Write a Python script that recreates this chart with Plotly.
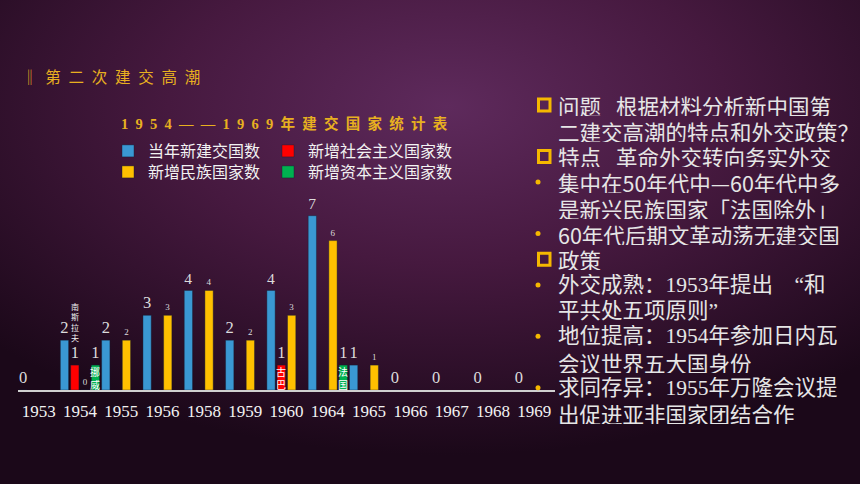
import urllib.parse
import plotly.graph_objects as go

# data
years = ['1953', '1954', '1955', '1956', '1958', '1959', '1960',
         '1964', '1965', '1966', '1967', '1968', '1969']
new_total = [0, 2, 2, 3, 4, 2, 4, 7, 1, 0, 0, 0, 0]
new_socialist = [None, 1, None, None, None, None, 1, None, None, None, None, None, None]
new_national = [None, 0, 2, 3, 4, 2, 3, 6, 1, None, None, None, None]
new_capitalist = [None, 1, None, None, None, None, None, 1, None, None, None, None, None]

series_names = ['当年新建交国数', '新增社会主义国家数', '新增民族国家数', '新增资本主义国家数']
series_colors = ['#3a98d3', '#ff0000', '#ffc000', '#00b050']

# country names written on/above single bars: (year, series index, value, text)
country_notes = [
    ('1954', 1, 1, '南斯拉夫'),
    ('1954', 3, 1, '挪威'),
    ('1960', 1, 1, '古巴'),
    ('1964', 3, 1, '法国'),
]

heading = '‖第二次建交高潮'
chart_title = '1954——1969年建交国家统计表'

# right-hand notes: (bullet kind, text)
side_notes = [
    ('square', '问题\u2002\u2009根据材料分析新中国第'),
    (None, '二建交高潮的特点和外交政策？'),
    ('square', '特点\u2002\u2009革命外交转向务实外交'),
    ('dot', '集中在50年代中—60年代中多'),
    (None, '是新兴民族国家「法国除外」'),
    ('dot', '60年代后期文革动荡无建交国'),
    ('square', '政策'),
    ('dot', '外交成熟：1953年提出\u3000“和'),
    (None, '平共处五项原则”'),
    ('dot', '地位提高：1954年参加日内瓦'),
    (None, '会议世界五大国身份'),
    ('dot', '求同存异：1955年万隆会议提'),
    (None, '出促进亚非国家团结合作'),
]

W, H = 860, 484
SERIF = 'Liberation Serif, Noto Sans CJK SC'
SANS = 'Noto Sans CJK SC, Noto Sans'
GOLD = '#e8b020'
TEXT = '#e6e6e6'


def px_x(x):
    return x / W


def px_y(y):
    return 1 - y / H


fig = go.Figure()

values = [new_total, new_socialist, new_national, new_capitalist]
label_sizes = [17, 17, 9, 17]
legends = ['legend', 'legend2', 'legend3', 'legend4']
for name, vals, color, size, lg in zip(series_names, values, series_colors, label_sizes, legends):
    fig.add_trace(go.Bar(
        x=years, y=vals, name=name, legend=lg,
        marker=dict(color=color, line=dict(color='rgba(20,30,50,0.5)', width=0.8)),
        texttemplate='%{y}', textposition='outside', cliponaxis=False,
        textfont=dict(family=SERIF, size=size, color='#dcdcdc'),
        hovertemplate='%{x}<br>' + name + ': %{y}<extra></extra>',
    ))

# horizontal offset of each series inside a year group (px)
slot = (555 - 18) / len(years) / 4
offsets = [(-1.5 + i) * slot for i in range(4)]

for year, si, val, txt in country_notes:
    xi = years.index(year)
    if si == 1 and year == '1954':
        # written vertically above the value label
        fig.add_annotation(x=xi, y=val, xref='x', yref='y', xshift=offsets[si], yshift=43,
                           text='<br>'.join(txt), showarrow=False, align='center',
                           font=dict(family=SANS, size=8, color='#f0f0f0'))
    else:
        fig.add_annotation(x=xi, y=val / 2, xref='x', yref='y', xshift=offsets[si],
                           text='<br>'.join(txt), showarrow=False, align='center',
                           font=dict(family=SANS, size=10, color='#ffffff'))

fig.add_annotation(x=px_x(20), y=px_y(76), xref='paper', yref='paper', xanchor='left',
                   yanchor='middle', text='\u2002'.join(heading), showarrow=False,
                   font=dict(family=SANS, size=15.5, color=GOLD))
fig.add_annotation(x=px_x(284), y=px_y(123), xref='paper', yref='paper', xanchor='center',
                   yanchor='middle', text='\u2002'.join(chart_title), showarrow=False,
                   font=dict(family=SERIF, size=14.5, color=GOLD, weight='bold'))

for i, (kind, txt) in enumerate(side_notes):
    yc = 105 + i * 25.7
    fam = SERIF if '：' in txt or '”' in txt else SANS
    fig.add_annotation(x=px_x(557), y=px_y(yc), xref='paper', yref='paper', xanchor='left',
                       yanchor='middle', text=txt, showarrow=False, height=22, borderpad=0,
                       font=dict(family=fam, size=21.5, color=TEXT))
    if kind == 'square':
        fig.add_shape(type='rect', xref='paper', yref='paper',
                      x0=px_x(538.5), x1=px_x(550), y0=px_y(yc - 6), y1=px_y(yc + 6),
                      line=dict(color='#f5b800', width=3), fillcolor='rgba(0,0,0,0)')
    elif kind == 'dot':
        fig.add_shape(type='circle', xref='paper', yref='paper',
                      x0=px_x(535.5), x1=px_x(540.5), y0=px_y(yc - 2.5), y1=px_y(yc + 2.5),
                      line=dict(width=0), fillcolor='#f5b800')

bg_svg = (
    '<svg xmlns="http://www.w3.org/2000/svg" width="860" height="484">'
    '<defs><radialGradient id="g" cx="0.52" cy="0.22" r="0.72">'
    '<stop offset="0" stop-color="#5e2a5c"/>'
    '<stop offset="0.45" stop-color="#46193f"/>'
    '<stop offset="1" stop-color="#1b0819"/>'
    '</radialGradient></defs>'
    '<rect width="860" height="484" fill="url(#g)"/></svg>'
)
fig.add_layout_image(source='data:image/svg+xml;charset=utf-8,' + urllib.parse.quote(bg_svg),
                     xref='paper', yref='paper', x=0, y=1, sizex=1, sizey=1,
                     sizing='stretch', layer='below', xanchor='left', yanchor='top')

y_zero, unit = 390, 24.9
legend_style = dict(orientation='h', xanchor='left', yanchor='middle',
                    bgcolor='rgba(0,0,0,0)',
                    font=dict(family=SANS, size=16, color='#f2f2f2'))
fig.update_layout(
    width=W, height=H, margin=dict(l=0, r=0, t=0, b=0),
    paper_bgcolor='#2e1030', plot_bgcolor='rgba(0,0,0,0)',
    barmode='group', bargap=0, bargroupgap=0.2,
    showlegend=True,
    legend=dict(legend_style, x=px_x(108), y=px_y(151)),
    legend2=dict(legend_style, x=px_x(268), y=px_y(151)),
    legend3=dict(legend_style, x=px_x(108), y=px_y(172)),
    legend4=dict(legend_style, x=px_x(268), y=px_y(172)),
    xaxis=dict(domain=[px_x(18), px_x(555)], range=[-0.5, len(years) - 0.5],
               type='category', showgrid=False, zeroline=False,
               showline=True, linecolor='#d0d0d0', linewidth=1.5,
               ticks='outside', ticklen=5, tickcolor='rgba(0,0,0,0)',
               tickfont=dict(family=SERIF, size=17, color='#f2f2f2')),
    yaxis=dict(domain=[px_y(y_zero), px_y(y_zero - 8 * unit)], range=[0, 8],
               visible=False),
)

fig.write_html('out.html', config={'displayModeBar': False},
               post_script="document.body.style.margin='0';")
